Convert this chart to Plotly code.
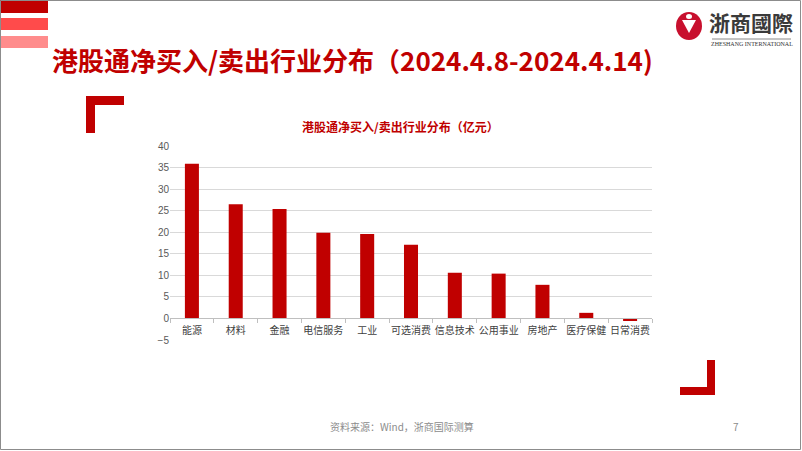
import plotly.graph_objects as go

categories = ["能源", "材料", "金融", "电信服务", "工业", "可选消费", "信息技术", "公用事业", "房地产", "医疗保健", "日常消费"]
values = [35.9, 26.5, 25.4, 19.9, 19.6, 17.1, 10.6, 10.4, 7.8, 1.3, -0.6]
y_ticks = [-5, 0, 5, 10, 15, 20, 25, 30, 35, 40]

W, H = 802, 451
L, R, T, B = 170, 150, 146, 111
PW, PH = W - L - R, H - T - B

def px(x):
    return (x - L) / PW

def py(y):
    return (H - B - y) / PH

FONT = "Noto Sans CJK SC"
RED = "#C00000"

fig = go.Figure()
fig.add_trace(go.Bar(x=categories, y=values, marker=dict(color=RED, line=dict(width=0))))

shapes = []
def rect(x0, y0, x1, y1, color, line=None):
    d = dict(type="rect", xref="paper", yref="paper", x0=px(x0), x1=px(x1), y0=py(y0), y1=py(y1),
             fillcolor=color, layer="above")
    if line:
        d["line"] = line
        d["fillcolor"] = "rgba(0,0,0,0)"
    else:
        d["line"] = dict(width=0)
    shapes.append(d)

# top-left stripes
rect(0, 0, 48, 13, "#C00000")
rect(0, 18, 48, 30, "#FF4B4B")
rect(0, 36, 48, 48, "#FF8C8C")
# corner brackets
rect(86, 96, 124, 105, RED)
rect(86, 96, 95, 133, RED)
rect(707, 360, 715, 395, RED)
rect(680, 387, 715, 395, RED)
# page border
rect(0.5, 0.5, 800.5, 449.5, None, line=dict(color="#8C8C8C", width=1))
# logo
shapes.append(dict(type="circle", xref="paper", yref="paper", x0=px(676), x1=px(702), y0=py(12), y1=py(40),
                   fillcolor="#C8102E", line=dict(width=0), layer="above"))
shapes.append(dict(type="path", xref="paper", yref="paper",
                   path="M %f,%f L %f,%f L %f,%f Z" % (px(682), py(20), px(696), py(20), px(689), py(33)),
                   fillcolor="white", line=dict(width=0), layer="above"))
shapes.append(dict(type="circle", xref="paper", yref="paper", x0=px(686), x1=px(692), y0=py(14), y1=py(19),
                   fillcolor="white", line=dict(width=0), layer="above"))
shapes.append(dict(type="line", xref="paper", yref="paper", x0=px(712), x1=px(791), y0=py(39), y1=py(39),
                   line=dict(color="#888888", width=1), layer="above"))

annotations = [
    dict(text="<b>港股通净买入/卖出行业分布（2024.4.8-2024.4.14)</b>", x=px(50), y=py(59),
         xanchor="left", yanchor="middle", font=dict(family=FONT, size=26, color=RED)),
    dict(text="<b>港股通净买入/卖出行业分布（亿元）</b>", x=px(400), y=py(127),
         xanchor="center", yanchor="middle", font=dict(family=FONT, size=12, color=RED)),
    dict(text="资料来源：Wind，浙商国际测算", x=px(328), y=py(426),
         xanchor="left", yanchor="middle", font=dict(family=FONT, size=10, color="#8C8C8C")),
    dict(text="7", x=px(736), y=py(426),
         xanchor="center", yanchor="middle", font=dict(family=FONT, size=10, color="#8C8C8C")),
    dict(text="<b>浙商國際</b>", x=px(751), y=py(22),
         xanchor="center", yanchor="middle", font=dict(family="Noto Sans CJK TC", size=21, color="#3A3A3A")),
    dict(text="ZHESHANG INTERNATIONAL", x=px(752), y=py(44),
         xanchor="center", yanchor="middle", font=dict(family="Liberation Serif", size=6, color="#333333")),
]
for a in annotations:
    a.update(xref="paper", yref="paper", showarrow=False)

fig.update_layout(
    width=W, height=H,
    margin=dict(l=L, r=R, t=T, b=B, autoexpand=False),
    paper_bgcolor="white", plot_bgcolor="white",
    showlegend=False, bargap=0.68,
    shapes=shapes, annotations=annotations,
    font=dict(family=FONT),
    xaxis=dict(anchor="free", position=5 / 45, showline=True, linecolor="#BFBFBF", linewidth=1,
               ticks="outside", tickson="boundaries", ticklen=4, tickcolor="#BFBFBF", tickangle=0,
               ticklabelstandoff=3,
               tickfont=dict(family=FONT, size=10, color="#404040"), showgrid=False, zeroline=False),
    yaxis=dict(range=[-5, 40], tickvals=y_ticks, domain=[0, 1], showgrid=True, gridcolor="#D9D9D9", gridwidth=1,
               zeroline=False, showline=False, ticks="", tickfont=dict(family="Liberation Sans", size=10, color="#595959")),
)

fig.write_html("out.html")
